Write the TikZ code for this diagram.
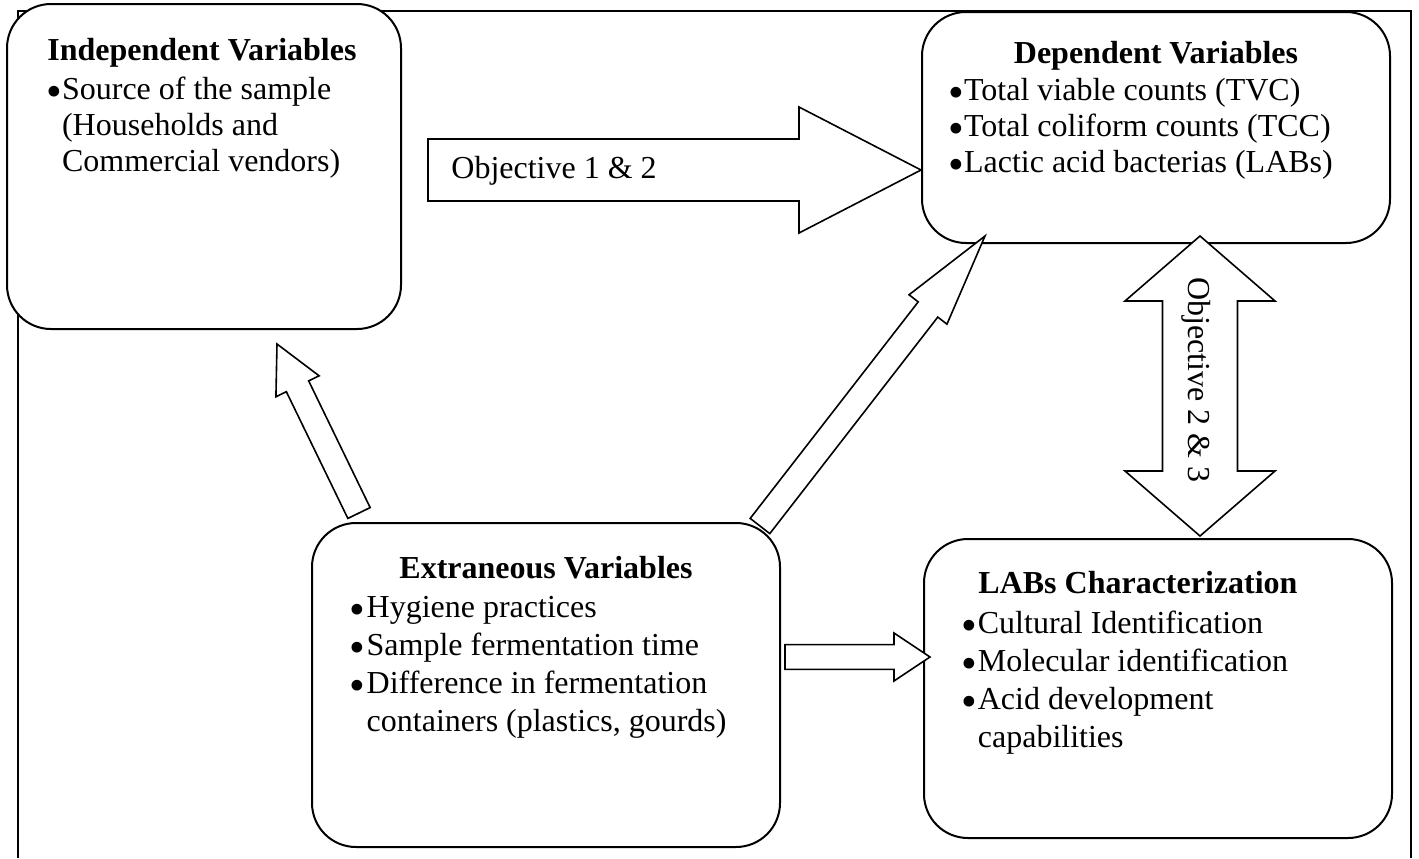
\documentclass[tikz,border=0pt]{standalone}
\usepackage{fontspec}
\setmainfont{Liberation Serif}
\usetikzlibrary{calc, fit}

% block arrow: from, to, shaft half width, head half width, head length
\newcommand{\blockarr}[5]{%
  \coordinate (hb) at ($(#2)!#5!(#1)$);
  \draw[arrowbody] ($(#1)!#3!90:(#2)$) -- ($(hb)!#3!90:(#2)$) -- ($(hb)!#4!90:(#2)$) -- (#2)
    -- ($(hb)!#4!-90:(#2)$) -- ($(hb)!#3!-90:(#2)$) -- ($(#1)!#3!-90:(#2)$) -- cycle;
}
% double block arrow: end, end, shaft half width, head half width, head length
\newcommand{\dblarr}[5]{%
  \coordinate (ha) at ($(#1)!#5!(#2)$);
  \coordinate (hb) at ($(#2)!#5!(#1)$);
  \draw[arrowbody] (#1) -- ($(ha)!#4!90:(#2)$) -- ($(ha)!#3!90:(#2)$) -- ($(hb)!#3!-90:(#1)$)
    -- ($(hb)!#4!-90:(#1)$) -- (#2) -- ($(hb)!#4!90:(#1)$) -- ($(hb)!#3!90:(#1)$)
    -- ($(ha)!#3!-90:(#2)$) -- ($(ha)!#4!-90:(#2)$) -- cycle;
}
% list bullet
\newcommand{\bul}{\raisebox{-3.6pt}{\scalebox{1.4}{\textbullet}}}

\begin{document}
\begin{tikzpicture}[x=0.5pt, y=-0.5pt, font=\fontsize{16}{18}\selectfont]
  \tikzset{
    frame/.style={draw, line width=1.1pt},
    varbox/.style={draw, line width=1pt, rounded corners=22pt, fill=white, inner sep=0pt},
    arrowbody/.style={draw, line width=0.8pt, fill=white},
    boxtitle/.style={font=\fontsize{16}{18}\selectfont\bfseries, anchor=base, inner sep=0pt},
    boxlist/.style={anchor=base west, inner sep=0pt},
    widelist/.style={boxlist, font=\fontsize{16}{19}\selectfont}
  }
  \useasboundingbox (0,0) rectangle (1419,858);

  % outer frame
  \draw[frame] (18,858) -- (18,11) -- (1411,11) -- (1411,858);

  % variable boxes
  \node[varbox, fit={(7,4) (401,329)}] (indep) {};
  \node[varbox, fit={(922,12) (1390,243)}] (dep) {};
  \node[varbox, fit={(312,523) (780,847)}] (extr) {};
  \node[varbox, fit={(924,539) (1392,838)}] (labs) {};

  \node[boxtitle, anchor=base west] (indeptitle) at (47,60) {Independent Variables};
  \node[boxlist] (indeplist) at (46,99) {\begin{tabular}[t]{@{}l@{}l@{}}
    \bul & Source of the sample\\
    & (Households and\\
    & Commercial vendors)
  \end{tabular}};

  \node[boxtitle] (deptitle) at (1156,63) {Dependent Variables};
  \node[boxlist] (deplist) at (948,100) {\begin{tabular}[t]{@{}l@{}l@{}}
    \bul & Total viable counts (TVC)\\
    \bul & Total coliform counts (TCC)\\
    \bul & Lactic acid bacterias (LABs)
  \end{tabular}};

  \node[boxtitle] (extrtitle) at (546,578) {Extraneous Variables};
  \node[widelist] (extrlist) at (349,617) {\begin{tabular}[t]{@{}l@{\hspace{0.8pt}}l@{}}
    \bul & Hygiene practices\\
    \bul & Sample fermentation time\\
    \bul & Difference in fermentation\\
    & containers (plastics, gourds)
  \end{tabular}};

  \node[boxtitle, anchor=base west] (labstitle) at (978,593) {LABs Characterization};
  \node[widelist] (labslist) at (961,633) {\begin{tabular}[t]{@{}l@{\hspace{0.4pt}}l@{}}
    \bul & Cultural Identification\\
    \bul & Molecular identification\\
    \bul & Acid development\\
    & capabilities
  \end{tabular}};

  % Objective arrows
  \coordinate (o12s) at (428,170);
  \coordinate (o12e) at (dep.west |- o12s);
  \blockarr{o12s}{o12e}{15.5pt}{31.5pt}{61pt}
  \node[anchor=base west, inner sep=0pt] (o12label) at (451,178) {Objective 1 \& 2};

  \coordinate (o23a) at (1200,236);
  \coordinate (o23b) at (1200,536);
  \dblarr{o23a}{o23b}{18.75pt}{37.5pt}{32.5pt}
  \node[rotate=-90, inner sep=0pt] (o23label) at (1196,380) {Objective 2 \& 3};

  % extraneous influence arrows
  \coordinate (e1s) at (359,513);
  \coordinate (e1t) at (277,344);
  \blockarr{e1s}{e1t}{6.2pt}{12pt}{23.5pt}
  \coordinate (e2s) at (760,526);
  \coordinate (e2t) at (985,236);
  \blockarr{e2s}{e2t}{6.2pt}{12pt}{46.5pt}
  \coordinate (e3s) at (785,657);
  \coordinate (e3t) at (930,657);
  \blockarr{e3s}{e3t}{6.2pt}{12pt}{18pt}
\end{tikzpicture}
\end{document}
